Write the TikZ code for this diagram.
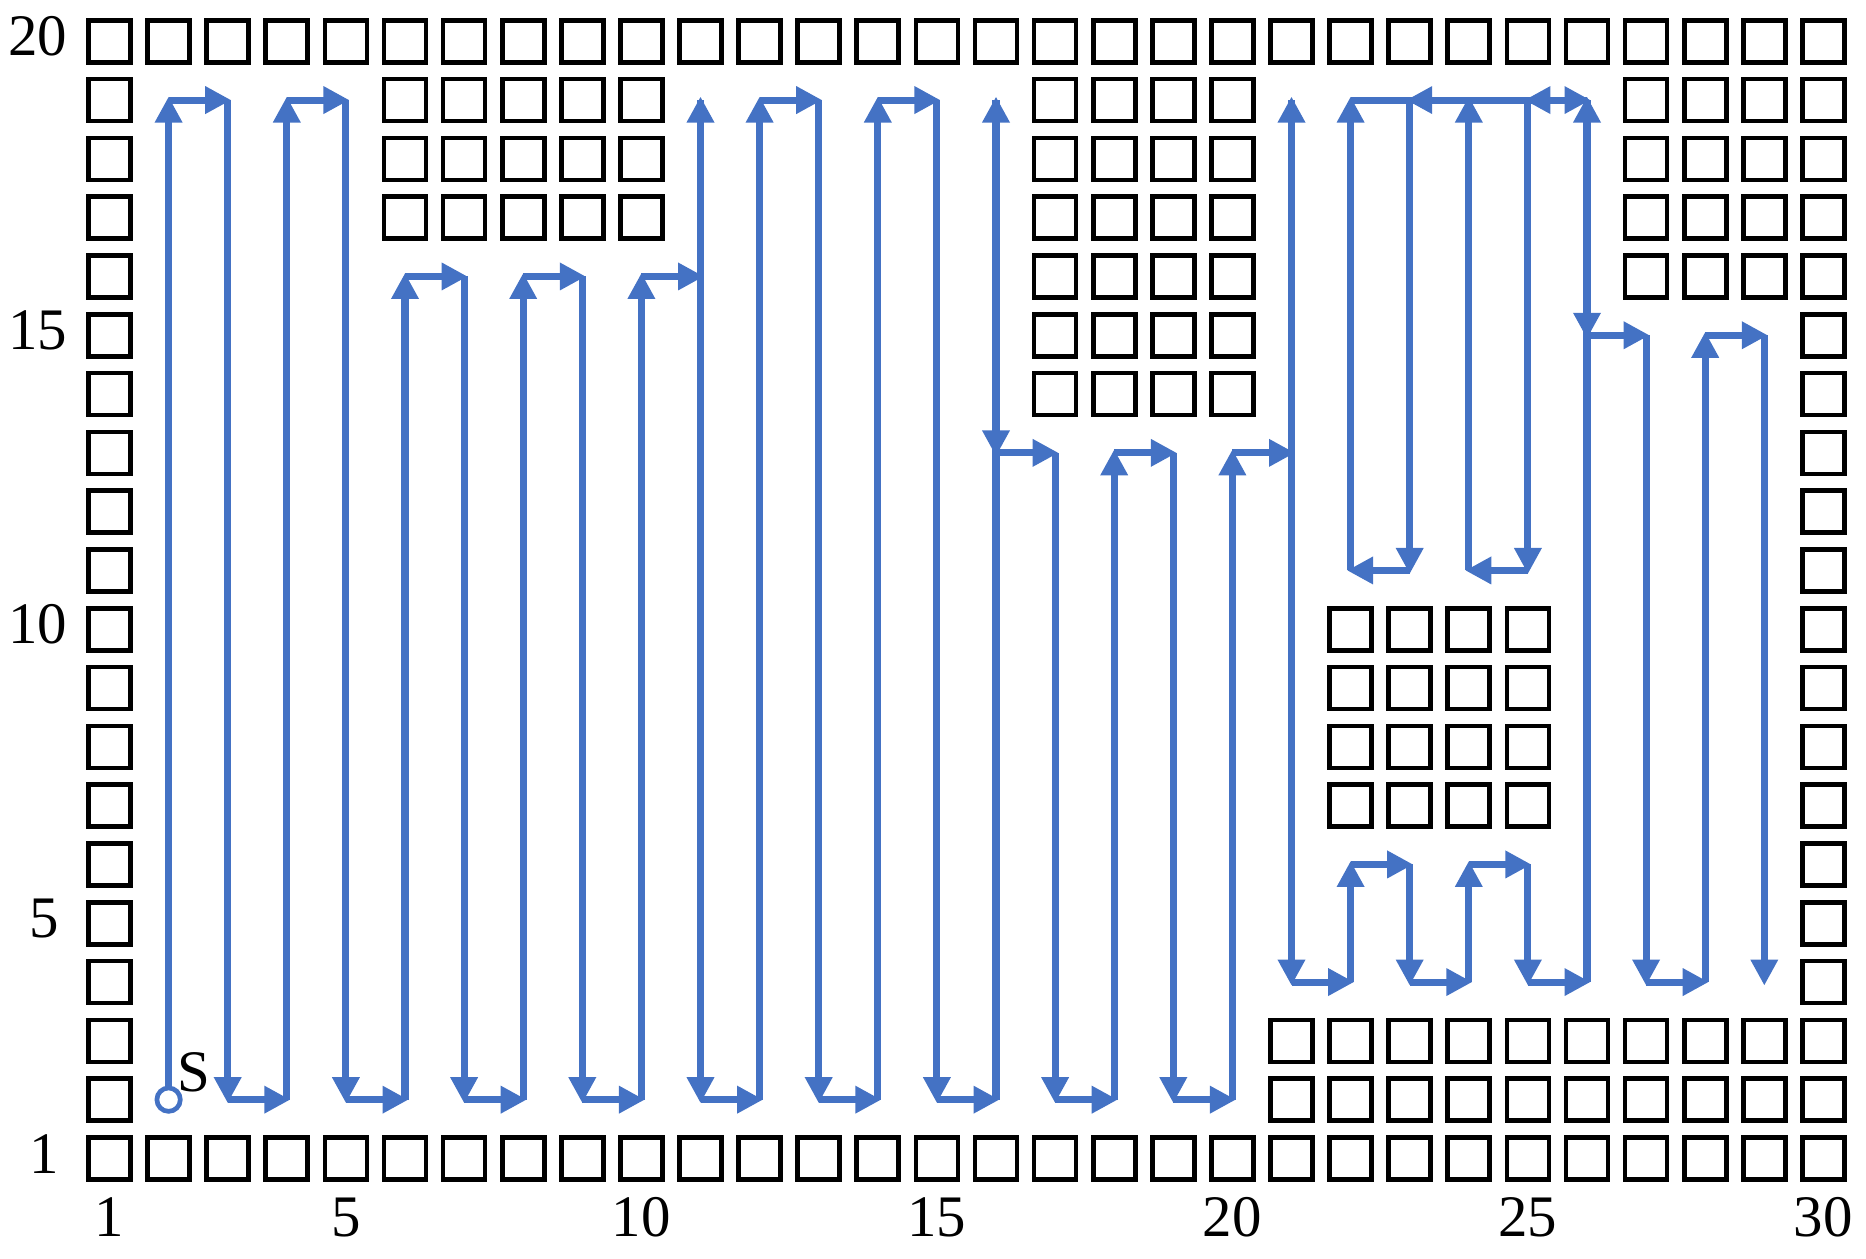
\documentclass[tikz,border=0pt]{standalone}
\usepackage{fontspec}
\setmainfont{Liberation Serif}
\usepackage{tikz}
\usetikzlibrary{arrows.meta}
\definecolor{routeBlue}{RGB}{68,114,196}

\begin{document}
\begin{tikzpicture}[x=1.182cm, y=1.176cm,
    cell/.style={draw, line width=2.67pt, minimum size=0.84cm, inner sep=0pt},
    route/.style={line width=4pt, routeBlue, -{Triangle[length=0.52cm, width=0.52cm]}, shorten >=-2pt},
    lab/.style={inner sep=0pt, font=\fontsize{33.5}{40}\selectfont}]
  \useasboundingbox (-0.8528,-0.7092) rectangle (30.721,20.702);
  \foreach \i in {1,...,30} \foreach \j in {1,...,20} \coordinate (c\i-\j) at (\i,\j);

  \foreach \i in {1,...,30} {\node[cell] (ob-\i-1) at (c\i-1) {}; \node[cell] (ob-\i-20) at (c\i-20) {};}
  \foreach \j in {2,...,19} {\node[cell] (ob-1-\j) at (c1-\j) {}; \node[cell] (ob-30-\j) at (c30-\j) {};}
  \foreach \i in {6,...,10} \foreach \j in {17,18,19} \node[cell] (ob-\i-\j) at (c\i-\j) {};
  \foreach \i in {17,...,20} \foreach \j in {14,...,19} \node[cell] (ob-\i-\j) at (c\i-\j) {};
  \foreach \i in {27,28,29} \foreach \j in {16,...,19} \node[cell] (ob-\i-\j) at (c\i-\j) {};
  \foreach \i in {22,...,25} \foreach \j in {7,...,10} \node[cell] (ob-\i-\j) at (c\i-\j) {};
  \foreach \i in {21,...,29} \foreach \j in {2,3} \node[cell] (ob-\i-\j) at (c\i-\j) {};

  \foreach \j/\xx in {1/-0.11, 5/-0.11, 10/-0.21, 15/-0.21, 20/-0.21} \node[lab] (yl\j) at (\xx,\j+0.08) {\j};
  \foreach \i in {1,5,10,15,20,25,30} \node[lab] (xl\i) at (\i,0) {\i};

  \node[circle, draw=routeBlue, line width=2.67pt, fill=white, minimum size=0.468cm, inner sep=0pt] (start) at (c2-2) {};
  \node[lab] (slab) at (2.42,2.47) {S};
  \draw[route] (start) -- (c2-19);
  \foreach \a/\b in {2-19/3-19, 3-19/3-2, 3-2/4-2, 4-2/4-19, 4-19/5-19, 5-19/5-2, 5-2/6-2,
      6-2/6-16, 6-16/7-16, 7-16/7-2, 7-2/8-2, 8-2/8-16, 8-16/9-16, 9-16/9-2, 9-2/10-2,
      10-2/10-16, 10-16/11-16, 11-16/11-19, 11-19/11-2, 11-2/12-2, 12-2/12-19, 12-19/13-19,
      13-19/13-2, 13-2/14-2, 14-2/14-19, 14-19/15-19, 15-19/15-2, 15-2/16-2, 16-2/16-19,
      16-19/16-13, 16-13/17-13, 17-13/17-2, 17-2/18-2, 18-2/18-13, 18-13/19-13, 19-13/19-2,
      19-2/20-2, 20-2/20-13, 20-13/21-13, 21-13/21-19, 21-19/21-4, 21-4/22-4, 22-4/22-6,
      22-6/23-6, 23-6/23-4, 23-4/24-4, 24-4/24-6, 24-6/25-6, 25-6/25-4, 25-4/26-4,
      26-4/26-19, 26-19/25-19, 25-19/25-11, 25-11/24-11, 24-11/24-19, 24-19/23-19,
      23-19/23-11, 23-11/22-11, 22-11/22-19, 22-19/26-19, 26-19/26-15, 26-15/27-15,
      27-15/27-4, 27-4/28-4, 28-4/28-15, 28-15/29-15, 29-15/29-4}
    \draw[route] (c\a) -- (c\b);
\end{tikzpicture}
\end{document}
